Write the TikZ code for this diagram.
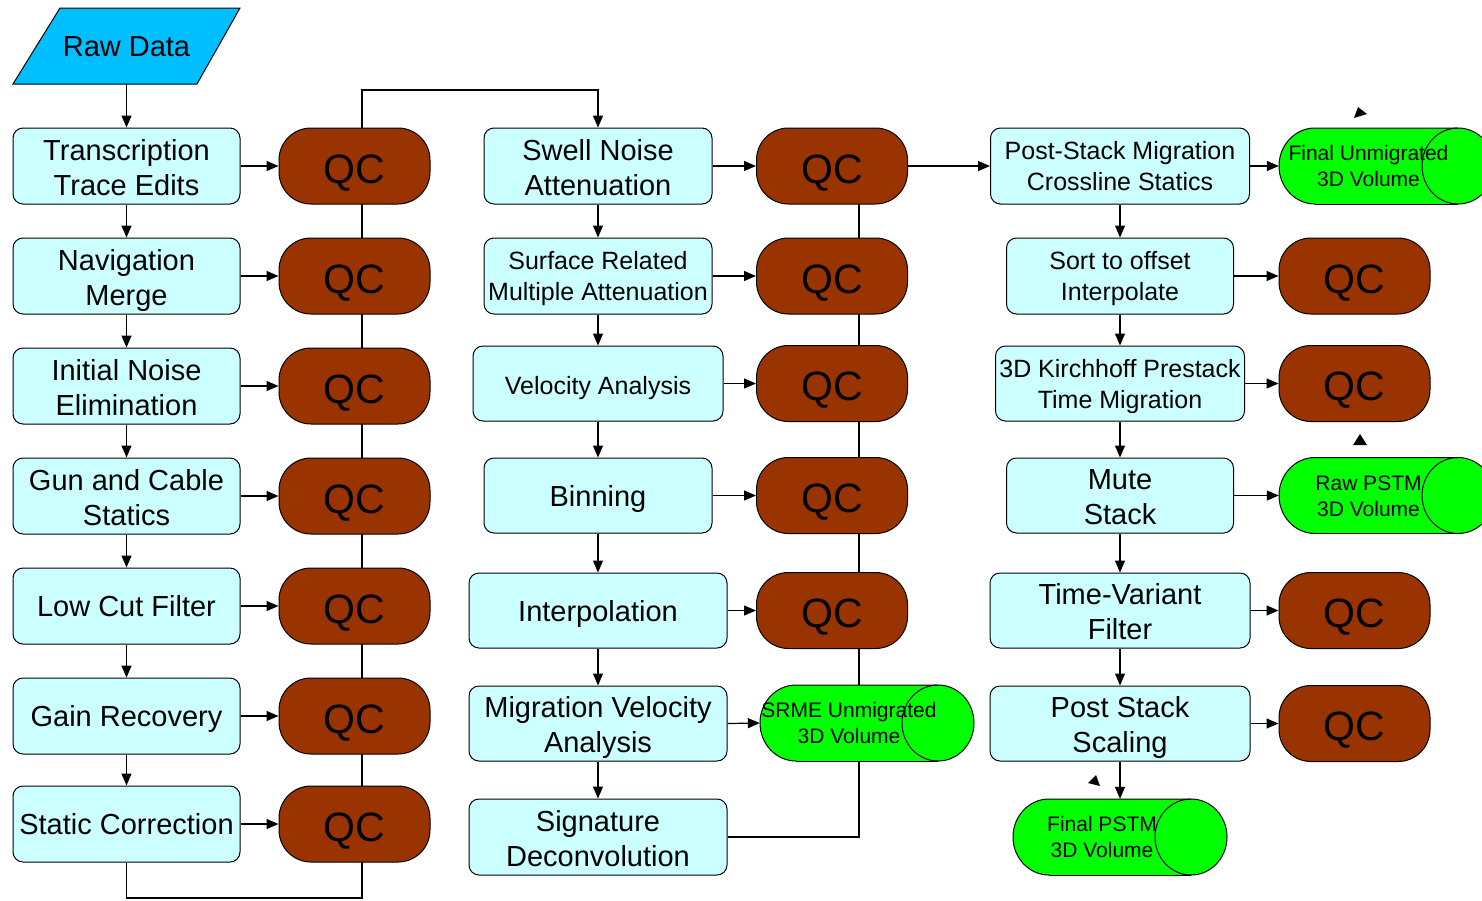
\documentclass[tikz,border=0pt]{standalone}
\usepackage{fontspec}
\setmainfont{Liberation Sans}
\usetikzlibrary{arrows.meta,backgrounds}
\definecolor{boxcyan}{HTML}{CCFFFF}
\definecolor{qcbrown}{HTML}{993300}
\definecolor{cylgreen}{HTML}{00FF00}
\definecolor{rawblue}{HTML}{00BFFF}
\tikzset{
  bd/.style={draw=black,line width=1pt},
  box/.style={bd, fill=boxcyan, rounded corners=10pt, align=center, inner sep=0pt,
    font=\fontsize{29}{35}\selectfont},
  oneline/.style={text height=21.5pt, text depth=0pt},
  twoline/.style={text height=58.8pt, text depth=0pt},
  smallone/.style={font=\fontsize{25}{31}\selectfont, text height=21pt, text depth=0pt},
  smalltwo/.style={font=\fontsize{25}{31}\selectfont, text height=49.85pt, text depth=0pt},
  qc/.style={bd, fill=qcbrown, rounded corners=32pt, minimum width=151pt, minimum height=76pt,
    inner sep=0pt, font=\fontsize{41}{41}\selectfont, text height=34pt, text depth=0pt},
  cyltext/.style={align=center, inner sep=0pt, minimum height=76pt,
    font=\fontsize{21}{26}\selectfont, text height=41pt, text depth=0pt},
  arr/.style={-{Triangle[length=12pt,width=10pt]}, line width=1.2pt},
  ln/.style={line width=1.2pt},
}
\newcommand\mycyl[3]{%
  \fill[cylgreen] (#1+36,#2-38) rectangle (#3,#2+38);
  \fill[cylgreen] (#1+36,#2) ellipse[x radius=36,y radius=38];
  \fill[cylgreen] (#3,#2) ellipse[x radius=36,y radius=38];
  \draw[bd] (#1+36,#2+38) arc[start angle=90,end angle=270,x radius=36,y radius=38] -- (#3,#2-38);
  \draw[bd] (#1+36,#2+38) -- (#3,#2+38);
  \draw[bd] (#3,#2) ellipse[x radius=36,y radius=38];
}
\begin{document}
\begin{tikzpicture}[x=1pt,y=-1pt]
\useasboundingbox (0,0) rectangle (1482,900);
\clip (0,0) rectangle (1482,900);

% Raw data
\filldraw[bd, fill=rawblue] (13,84) -- (60,8) -- (240,8) -- (197,84) -- cycle;
\node[inner sep=0pt, minimum width=184pt, minimum height=76pt, font=\fontsize{29}{35}\selectfont, oneline] (raw) at (126.5,46) {Raw Data};

% Column 1
\node[box, twoline, minimum width=227pt, minimum height=76pt] (c1) at (126.5,166) {Transcription\\Trace Edits};
\node[box, twoline, minimum width=227pt, minimum height=76pt] (c2) at (126.5,276) {Navigation\\Merge};
\node[box, twoline, minimum width=227pt, minimum height=76pt] (c3) at (126.5,386) {Initial Noise\\Elimination};
\node[box, twoline, minimum width=227pt, minimum height=76pt] (c4) at (126.5,496) {Gun and Cable\\Statics};
\node[box, oneline, minimum width=227pt, minimum height=76pt] (c5) at (126.5,606) {Low Cut Filter};
\node[box, oneline, minimum width=227pt, minimum height=76pt] (c6) at (126.5,716) {Gain Recovery};
\node[box, oneline, minimum width=227pt, minimum height=76pt] (c7) at (126.5,824) {Static Correction};
\foreach \i/\y in {1/166,2/276,3/386,4/496,5/606,6/716,7/824}
  \node[qc] (qa\i) at (354.5,\y) {QC};

% Column 2
\node[box, twoline, minimum width=228pt, minimum height=76pt] (swell) at (598,166) {Swell Noise\\Attenuation};
\node[box, smalltwo, minimum width=228pt, minimum height=76pt] (srma) at (598,276) {Surface Related\\Multiple Attenuation};
\node[box, smallone, minimum width=250pt, minimum height=75pt] (vel) at (598,383.5) {Velocity Analysis};
\node[box, oneline, minimum width=228pt, minimum height=75pt] (bin) at (598,495.5) {Binning};
\node[box, oneline, minimum width=258pt, minimum height=75pt] (interp) at (598,610.5) {Interpolation};
\node[box, twoline, minimum width=258pt, minimum height=75pt] (mva) at (598,723.5) {Migration Velocity\\Analysis};
\node[box, twoline, minimum width=258pt, minimum height=76pt] (sig) at (598,837) {Signature\\Deconvolution};
\foreach \i/\y in {1/166,2/276,3/383.5,4/495.5,5/610.5}
  \node[qc] (qb\i) at (832,\y) {QC};
\mycyl{760}{723}{938}
\node[cyltext, minimum width=178pt] (srme) at (849,723) {SRME Unmigrated\\3D Volume};

% Column 3
\node[box, smalltwo, minimum width=259pt, minimum height=76pt] (psm) at (1120,166) {Post-Stack Migration\\Crossline Statics};
\node[box, smalltwo, minimum width=227pt, minimum height=76pt] (sort) at (1120,276) {Sort to offset\\Interpolate};
\node[box, smalltwo, minimum width=249pt, minimum height=75pt] (kirch) at (1120,383.5) {3D Kirchhoff Prestack\\Time Migration};
\node[box, twoline, minimum width=227pt, minimum height=75pt] (mute) at (1120,495.5) {Mute\\Stack};
\node[box, twoline, minimum width=260pt, minimum height=75pt] (tvf) at (1120,610.5) {Time-Variant\\Filter};
\node[box, twoline, minimum width=260pt, minimum height=75pt] (pss) at (1120,723.5) {Post Stack\\Scaling};
\foreach \i/\y in {1/276,2/383.5,3/610.5,4/723.5}
  \node[qc] (qc\i) at (1354.5,\y) {QC};
\mycyl{1279}{166}{1458}
\node[cyltext, minimum width=179pt] (fum) at (1368.5,166) {Final Unmigrated\\3D Volume};
\mycyl{1279}{495.5}{1458}
\node[cyltext, minimum width=179pt] (rpstm) at (1368.5,495.5) {Raw PSTM\\3D Volume};
\mycyl{1013}{837}{1191}
\node[cyltext, minimum width=178pt] (fpstm) at (1102,837) {Final PSTM\\3D Volume};

% stray arrowheads
\fill (1354,118) -- (1367,114) -- (1358,107) -- cycle;
\fill (1353,445) -- (1367,445) -- (1360,434) -- cycle;
\fill (1088,783) -- (1100,786) -- (1096,775) -- cycle;

% connectors
\coordinate (loopB) at (362,898);
\coordinate (loopT) at (362,90);
\coordinate (c2b) at (859,837);
\coordinate (c2t) at (859,180);
\begin{scope}[on background layer]
  \draw[arr] (raw.south) -- (c1.north);
  \foreach \a/\b in {c1/c2,c2/c3,c3/c4,c4/c5,c5/c6,c6/c7}
    \draw[arr] (\a.south) -- (\b.north);
  \foreach \i in {1,...,7}
    \draw[arr] (c\i.east) -- (qa\i.west);
  \draw[arr] (c7.south) |- (loopB) -- (loopT) -| (swell.north);

  \foreach \a/\b in {swell/srma,srma/vel,vel/bin,bin/interp,interp/mva,mva/sig}
    \draw[arr] (\a.south) -- (\b.north);
  \draw[arr] (swell.east) -- (qb1.west);
  \draw[arr] (srma.east) -- (qb2.west);
  \draw[arr] (vel.east) -- (qb3.west);
  \draw[arr] (bin.east) -- (qb4.west);
  \draw[arr] (interp.east) -- (qb5.west);
  \draw[arr] (mva.east) -- (srme.west);
  \draw[ln] (sig.east) -- (c2b) -- (c2t);
  \draw[arr] (qb1.east) -- (psm.west);

  \foreach \a/\b in {psm/sort,sort/kirch,kirch/mute,mute/tvf,tvf/pss}
    \draw[arr] (\a.south) -- (\b.north);
  \draw[arr] (pss.south) -- (pss.south |- fpstm.north);
  \draw[arr] (psm.east) -- (fum.west);
  \draw[arr] (sort.east) -- (qc1.west);
  \draw[arr] (kirch.east) -- (qc2.west);
  \draw[arr] (mute.east) -- (rpstm.west);
  \draw[arr] (tvf.east) -- (qc3.west);
  \draw[arr] (pss.east) -- (qc4.west);
\end{scope}
\end{tikzpicture}
\end{document}
